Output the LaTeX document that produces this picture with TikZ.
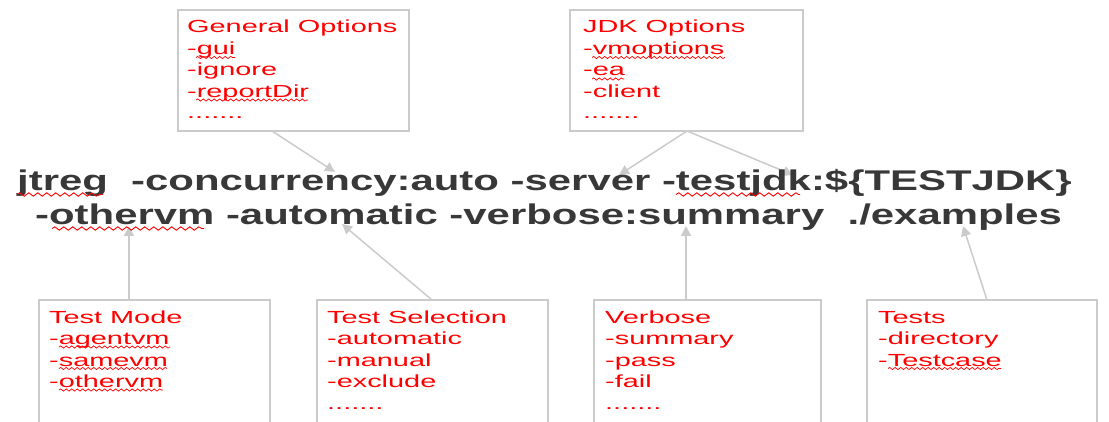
\documentclass[tikz,border=0pt]{standalone}
\usepackage{fontspec}
\usetikzlibrary{arrows.meta,calc,decorations.pathmorphing}
\newfontfamily\cmdfont[FakeStretch=1.47]{Liberation Sans}
\newfontfamily\optfont[FakeStretch=1.65]{Liberation Sans}
\newcommand\cmdf{\cmdfont\bfseries\fontsize{28.5}{34}\selectfont}
\newcommand\optf{\optfont\fontsize{17.5}{21.5}\selectfont}
\definecolor{cmdgray}{HTML}{383838}
\definecolor{linegray}{HTML}{CBCBCB}
\definecolor{optred}{HTML}{FF0000}
\tikzset{
  optbox/.style={draw=linegray, line width=1.5pt, anchor=north west, inner sep=0pt, outer sep=0pt},
  opttext/.style={anchor=base west, inner sep=0pt, align=left, text=optred, font=\optf},
  cmdline/.style={anchor=base west, inner sep=0pt, text=cmdgray, font=\cmdf},
  conn/.style={draw=linegray, line width=1.5pt, -{Triangle[length=10pt,width=10pt]}},
  wvsmall/.style={draw=optred, line width=0.7pt, decorate, decoration={snake, amplitude=1.1pt, segment length=5.5pt}},
  wvbig/.style={draw=optred, line width=0.9pt, decorate, decoration={snake, amplitude=1.7pt, segment length=9pt}}
}
\begin{document}
\begin{tikzpicture}[x=1pt,y=-1pt]
\useasboundingbox (0,0) rectangle (1109,422);
\clip (0,0) rectangle (1109,422);
% option boxes
\node[optbox, minimum width=231, minimum height=121] (gen) at (178,10) {};
\node[optbox, minimum width=233, minimum height=121] (jdk) at (570,10) {};
\node[optbox, minimum width=231, minimum height=140] (mode) at (39,300) {};
\node[optbox, minimum width=231, minimum height=140] (sel) at (317,300) {};
\node[optbox, minimum width=227, minimum height=140] (verb) at (594,300) {};
\node[optbox, minimum width=230, minimum height=140] (tests) at (867,300) {};
% arrow targets on the command line
\coordinate (tGen) at (335,172);
\coordinate (tServer) at (619,175);
\coordinate (tJdk) at (793,175);
\coordinate (tMode) at (129,226);
\coordinate (tSel) at (342,224);
\coordinate (tVerb) at (686,226);
\coordinate (tTests) at (963,226);
% connectors
\draw[conn] ($(gen.south west)+(94,0)$) -- (tGen);
\draw[conn] ($(jdk.south west)+(117,0)$) -- (tServer);
\draw[conn] ($(jdk.south west)+(117,0)$) -- (tJdk);
\draw[conn] ($(mode.north west)+(90,0)$) -- (tMode);
\draw[conn] ($(sel.north west)+(115,0)$) -- (tSel);
\draw[conn] ($(verb.north west)+(92,0)$) -- (tVerb);
\draw[conn] ($(tests.north west)+(120,0)$) -- (tTests);
% box texts (node base = baseline of the last line)
\node[opttext] (gent) at ($(gen.north west)+(9,109)$) {General Options\\-gui\\-ignore\\-reportDir\\.......};
\node[opttext] (jdkt) at ($(jdk.north west)+(13,109)$) {JDK Options\\-vmoptions\\-ea\\-client\\.......};
\node[opttext] (modet) at ($(mode.north west)+(10,87.5)$) {Test Mode\\-agentvm\\-samevm\\-othervm};
\node[opttext] (selt) at ($(sel.north west)+(10,109)$) {Test Selection\\-automatic\\-manual\\-exclude\\.......};
\node[opttext] (verbt) at ($(verb.north west)+(11,109)$) {Verbose\\-summary\\-pass\\-fail\\.......};
\node[opttext] (testst) at ($(tests.north west)+(11,66)$) {Tests\\-directory\\-Testcase};
% command line
\node[cmdline] (l1) at (17,191) {jtreg\ \ -concurrency:auto -server -testjdk:\$\{TESTJDK\}};
\node[cmdline] (l2) at (35,225) {-othervm -automatic -verbose:summary\ \ ./examples};
% spell-check squiggles
\draw[wvsmall] (196,57.5) -- (235,57.5);
\draw[wvsmall] (196,100) -- (308,100);
\draw[wvsmall] (592,57.5) -- (725,57.5);
\draw[wvsmall] (592,79) -- (624,79);
\draw[wvsmall] (59,347) -- (170,347);
\draw[wvsmall] (59,368.5) -- (167,368.5);
\draw[wvsmall] (59,390) -- (163,390);
\draw[wvsmall] (888,368.5) -- (1001,368.5);
\draw[wvbig] (17,194.5) -- (103,194.5);
\draw[wvbig] (676,194.5) -- (800,194.5);
\draw[wvbig] (52,228.5) -- (204,228.5);
\end{tikzpicture}
\end{document}
